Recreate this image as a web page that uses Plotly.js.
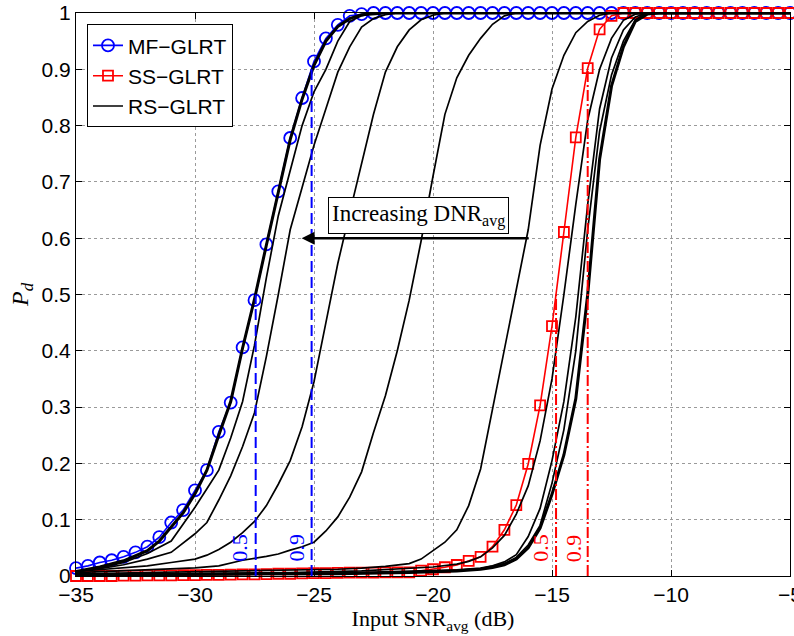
<!DOCTYPE html>
<html>
<head>
<meta charset="utf-8">
<script src="https://cdn.plot.ly/plotly-3.0.1.min.js"></script>
<style>html,body{margin:0;padding:0;background:#fff;}</style>
</head>
<body>
<div id="chart" style="width:794px;height:636px;"></div>
<script>
// ---- data ----
const snrGrid = [-35,-34.5,-34,-33.5,-33,-32.5,-32,-31.5,-31,-30.5,-30,-29.5,-29,-28.5,-28,-27.5,-27,-26.5,-26,-25.5,-25,-24.5,-24,-23.5,-23,-22.5,-22,-21.5,-21,-20.5,-20,-19.5,-19,-18.5,-18,-17.5,-17,-16.5,-16,-15.5,-15,-14.5,-14,-13.5,-13,-12.5,-12,-11.5,-11,-10.5,-10,-9.5,-9,-8.5,-8,-7.5,-7,-6.5,-6,-5.5,-5];
const mfPd = [0.014,0.018,0.024,0.028,0.034,0.042,0.052,0.069,0.095,0.117,0.152,0.188,0.256,0.308,0.406,0.49,0.589,0.683,0.778,0.849,0.914,0.955,0.979,0.995,0.998,1,1,1,1,1,1,1,1,1,1,1,1,1,1,1,1,1,1,1,1,1,1,1,1,1,1,1,1,1,1,1,1,1,1,1,1];
const ssPd = [0,0,0,0,0.0005,0.0005,0.001,0.001,0.001,0.0015,0.0015,0.002,0.002,0.0025,0.003,0.003,0.0035,0.004,0.004,0.0045,0.005,0.005,0.0055,0.006,0.006,0.006,0.0065,0.0065,0.0066,0.0094,0.012,0.0155,0.0195,0.027,0.034,0.052,0.082,0.126,0.199,0.303,0.444,0.611,0.779,0.902,0.971,0.995,1,1,1,1,1,1,1,1,1,1,1,1,1,1,1];

const rs1Snr = [-35,-34,-33,-32,-31.5,-31,-30.5,-30,-29.5,-29,-28.5,-28,-27.5,-27,-26.5,-26,-25.5,-25,-24.5,-24,-23.5,-23,-22,-5];
const rs1Pd  = [0.008,0.016,0.027,0.045,0.062,0.087,0.112,0.146,0.188,0.25,0.31,0.405,0.492,0.588,0.683,0.775,0.847,0.907,0.95,0.976,0.99,0.997,1,1];
const rs2Snr = [-35,-34,-33,-32,-31,-30.5,-30,-29.5,-29,-28.5,-28,-27.5,-27,-26.5,-26,-25.5,-25,-24.5,-24,-23.5,-23,-22.5,-5];
const rs2Pd  = [0.008,0.014,0.024,0.04,0.062,0.092,0.122,0.155,0.188,0.245,0.31,0.41,0.53,0.64,0.72,0.8,0.86,0.9,0.95,0.985,0.995,1,1];
const rs3Snr = [-35,-34,-33,-32,-31,-30.5,-30,-29.5,-29,-28.5,-28,-27.5,-27,-26.5,-26,-25.5,-25,-24.5,-24,-23.5,-23,-22.5,-22,-21.5,-5];
const rs3Pd  = [0.008,0.013,0.02,0.03,0.042,0.058,0.075,0.095,0.135,0.178,0.23,0.29,0.39,0.5,0.615,0.69,0.765,0.83,0.895,0.94,0.975,0.99,0.997,1,1];
const rs4Snr = [-35,-34,-33,-32,-31,-30,-29.5,-29,-28.5,-28,-27.5,-27,-26.5,-26,-25.5,-25,-24.5,-24,-23.5,-23,-22.5,-22,-21.5,-21,-20.5,-20,-19.5,-5];
const rs4Pd  = [0.008,0.011,0.014,0.018,0.024,0.03,0.037,0.047,0.06,0.077,0.097,0.125,0.163,0.205,0.265,0.345,0.45,0.555,0.645,0.73,0.82,0.895,0.94,0.97,0.988,0.996,1,1];
const rs5Snr = [-35,-33,-31,-30,-29,-28,-27,-26.5,-26,-25.5,-25,-24.5,-24,-23.5,-23,-22.5,-22,-21.5,-21,-20.5,-20,-19.5,-19,-18.5,-18,-17.5,-17,-16.5,-5];
const rs5Pd  = [0.006,0.009,0.012,0.0145,0.018,0.028,0.035,0.039,0.046,0.052,0.06,0.08,0.105,0.14,0.185,0.255,0.32,0.4,0.49,0.595,0.71,0.82,0.885,0.925,0.955,0.98,0.995,1,1];
const rs6Snr = [-35,-32,-29,-26,-24,-23,-22,-21,-20.5,-20,-19.5,-19,-18.5,-18,-17.5,-17,-16.5,-16,-15.5,-15,-14.5,-14,-13.5,-13,-12.5,-5];
const rs6Pd  = [0.004,0.006,0.008,0.01,0.012,0.014,0.017,0.022,0.03,0.045,0.06,0.082,0.125,0.19,0.295,0.4,0.507,0.615,0.765,0.865,0.925,0.965,0.985,0.996,1,1];
const rs7Snr = [-35,-30,-26,-23,-21,-20,-19,-18.5,-18,-17.5,-17,-16.5,-16,-15.5,-15,-14.5,-14,-13.5,-13,-12.5,-12,-11.5,-11,-5];
const rs7Pd  = [0.003,0.004,0.006,0.009,0.013,0.016,0.021,0.026,0.034,0.05,0.072,0.11,0.16,0.24,0.35,0.5,0.66,0.81,0.9,0.955,0.987,0.998,1,1];
const rs8Snr = [-35,-28,-24,-21,-19,-18,-17.5,-17,-16.5,-16,-15.5,-15,-14.5,-14,-13.5,-13,-12.5,-12,-11.5,-11,-5];
const rs8Pd  = [0.002,0.003,0.005,0.008,0.011,0.014,0.018,0.025,0.038,0.07,0.12,0.205,0.31,0.46,0.66,0.83,0.92,0.97,0.993,1,1];
const rs9Snr = [-35,-28,-24,-21,-19,-18,-17.5,-17,-16.5,-16,-15.5,-15,-14.5,-14,-13.5,-13,-12.5,-12,-11.5,-11,-5];
const rs9Pd  = [0.002,0.003,0.004,0.007,0.01,0.013,0.017,0.022,0.033,0.055,0.09,0.165,0.26,0.4,0.615,0.79,0.89,0.95,0.988,1,1];
const rs10Snr = [-35,-28,-24,-21,-19,-18,-17.5,-17,-16.5,-16,-15.5,-15,-14.5,-14,-13.5,-13,-12.5,-12,-11.5,-11,-10.5,-5];
const rs10Pd  = [0.002,0.003,0.004,0.006,0.009,0.012,0.015,0.02,0.03,0.05,0.085,0.145,0.215,0.315,0.5,0.74,0.87,0.94,0.985,0.998,1,1];

// thresholds (Pd = 0.5 and 0.9)
const pdLevels = [0.5, 0.9];
const pdLabels = ['0.5', '0.9'];
const mfThreshold = [-27.45, -25.1];
const ssThreshold = [-14.83, -13.5];

// ---- traces ----
const traces = [];
traces.push({x: snrGrid, y: mfPd, name: 'MF\u2212GLRT', mode: 'lines+markers', cliponaxis: false, legendrank: 1,
  line: {color: '#0000ff', width: 1.6},
  marker: {symbol: 'circle-open', size: 12, color: '#0000ff', line: {width: 1.8, color: '#0000ff'}}});
traces.push({x: snrGrid, y: ssPd, name: 'SS\u2212GLRT', mode: 'lines+markers', cliponaxis: false, legendrank: 2,
  line: {color: '#ff0000', width: 1.6},
  marker: {symbol: 'square-open', size: 10, color: '#ff0000', line: {width: 1.8, color: '#ff0000'}}});

const rsSets = [[rs1Snr, rs1Pd, 3], [rs2Snr, rs2Pd, 1.7], [rs3Snr, rs3Pd, 1.7], [rs4Snr, rs4Pd, 1.7],
  [rs5Snr, rs5Pd, 1.7], [rs6Snr, rs6Pd, 1.7], [rs7Snr, rs7Pd, 1.7], [rs8Snr, rs8Pd, 1.7],
  [rs9Snr, rs9Pd, 1.7], [rs10Snr, rs10Pd, 3]];
rsSets.forEach((s, i) => {
  traces.push({x: s[0], y: s[1], mode: 'lines', name: 'RS\u2212GLRT', showlegend: i === 1,
    legendrank: 3, cliponaxis: false, line: {color: '#000000', width: s[2]}});
});

pdLevels.forEach((lv, i) => {
  traces.push({x: [mfThreshold[i], mfThreshold[i]], y: [0, lv], mode: 'lines', showlegend: false,
    line: {color: '#0000ff', width: 2, dash: '11px,5px'}});
  traces.push({x: [ssThreshold[i], ssThreshold[i]], y: [0, lv], mode: 'lines', showlegend: false,
    line: {color: '#ff0000', width: 2, dash: '11px,3px,2px,3px'}});
});

const serif = 'Liberation Serif, Times New Roman, serif';
const sans = 'Liberation Sans, Arial, sans-serif';

const annotations = [
  {x: -20.63, y: 0.64, xref: 'x', yref: 'y', text: 'Increasing DNR<sub>avg</sub>', showarrow: false,
   font: {family: serif, size: 23, color: '#000'}, bordercolor: '#000', borderwidth: 1, borderpad: 3, bgcolor: '#fff'},
  {x: -25.52, y: 0.6, xref: 'x', yref: 'y', ax: -15.92, ay: 0.6, axref: 'x', ayref: 'y', text: '',
   showarrow: true, arrowhead: 2, arrowsize: 1, arrowwidth: 2.6, arrowcolor: '#000'}
];
const mfLabelX = [-28.11, -25.73];
const ssLabelX = [-15.47, -14.1];
pdLevels.forEach((lv, i) => {
  annotations.push({x: mfLabelX[i], y: 0.05, xref: 'x', yref: 'y', text: pdLabels[i], showarrow: false,
    textangle: -90, font: {family: serif, size: 22, color: '#0000ff'}});
  annotations.push({x: ssLabelX[i], y: 0.05, xref: 'x', yref: 'y', text: pdLabels[i], showarrow: false,
    textangle: -90, font: {family: serif, size: 22, color: '#ff0000'}});
});

const axisCommon = {
  showgrid: true, gridcolor: '#9a9a9a', griddash: 'dot', gridwidth: 1,
  zeroline: false, showline: true, linecolor: '#000', linewidth: 1, mirror: 'ticks',
  ticks: 'inside', ticklen: 6, tickcolor: '#000', ticklabeloverflow: 'allow',
  tickfont: {family: sans, size: 21, color: '#000'}
};

const layout = {
  width: 794, height: 636,
  margin: {l: 76, r: 4, t: 13, b: 60},
  paper_bgcolor: '#fff', plot_bgcolor: '#fff',
  showlegend: true,
  legend: {x: 0.0154, y: 0.98, xanchor: 'left', yanchor: 'top', bgcolor: '#fff',
    bordercolor: '#000', borderwidth: 1, font: {family: sans, size: 21, color: '#000'},
    tracegroupgap: 0, entrywidth: 150},
  xaxis: Object.assign({}, axisCommon, {range: [-35, -5], tick0: -35, dtick: 5,
    title: {text: 'Input SNR<sub>avg</sub> (dB)', font: {family: serif, size: 22, color: '#000'}, standoff: 4}}),
  yaxis: Object.assign({}, axisCommon, {range: [0, 1], tick0: 0, dtick: 0.1,
    title: {text: '<i>P</i><sub><i>d</i></sub>', font: {family: serif, size: 24, color: '#000'}, standoff: 6}}),
  annotations: annotations
};

Plotly.newPlot('chart', traces, layout, {displayModeBar: false, staticPlot: true});
</script>
</body>
</html>
